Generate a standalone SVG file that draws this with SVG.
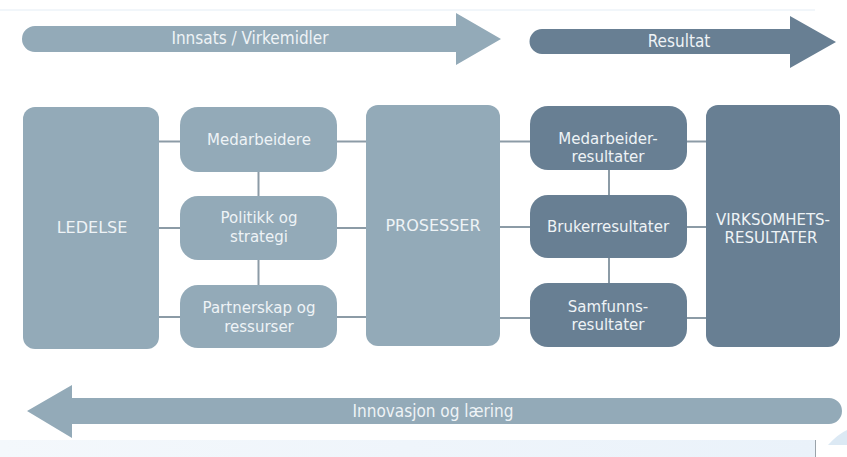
<svg xmlns="http://www.w3.org/2000/svg" width="847" height="457" viewBox="0 0 847 457">
<defs>
<linearGradient id="bg" x1="0" y1="0" x2="1" y2="0">
<stop offset="0" stop-color="#f4f8fc"/>
<stop offset="1" stop-color="#eaf2fa"/>
</linearGradient>
</defs>
<style>
.light{fill:#93aab8}
.dark{fill:#687f93}
.conn{stroke:#8c9ba6;stroke-width:2;fill:none}
.t{font-family:"DejaVu Sans",Verdana,sans-serif;font-size:15px;fill:#eef3f6;text-anchor:middle}
.big{font-size:16px}
.at{font-family:"DejaVu Sans Condensed","DejaVu Sans",sans-serif;font-size:17px;fill:#eef3f6;text-anchor:middle}
</style>
<rect width="847" height="457" fill="#ffffff"/>
<line x1="0" y1="10" x2="815" y2="10" stroke="#e4edf5" stroke-width="1"/>
<rect x="0" y="440" width="815" height="17" fill="url(#bg)"/>
<line x1="815.5" y1="440" x2="815.5" y2="457" stroke="#9aa3aa" stroke-width="1"/>
<path d="M 828 445 Q 838 434 847 430 L 847 445 Z" fill="#dce9f4"/>

<g id="arrow-innsats">
<path class="light" d="M 35 26 H 456 V 13 L 501 39 L 456 65 V 52 H 35 A 13 13 0 0 1 35 26 Z"/>
<text class="at" x="250" y="44">Innsats / Virkemidler</text>
</g>
<g id="arrow-resultat">
<path class="dark" d="M 542 29 H 790 V 16 L 836 42 L 790 68 V 54 H 542 A 12.5 12.5 0 0 1 542 29 Z"/>
<text class="at" x="679" y="47">Resultat</text>
</g>
<g id="arrow-innovasjon">
<path class="light" d="M 829 398 H 72 V 385 L 27 411 L 72 438 V 424 H 829 A 13 13 0 0 0 829 398 Z"/>
<text class="at" x="433" y="417">Innovasjon og læring</text>
</g>

<g id="connectors">
<line class="conn" x1="159" y1="141.5" x2="180" y2="141.5"/>
<line class="conn" x1="159" y1="228" x2="180" y2="228"/>
<line class="conn" x1="159" y1="317" x2="180" y2="317"/>
<line class="conn" x1="337" y1="141.5" x2="366" y2="141.5"/>
<line class="conn" x1="337" y1="228" x2="366" y2="228"/>
<line class="conn" x1="337" y1="317" x2="366" y2="317"/>
<line class="conn" x1="258.5" y1="172" x2="258.5" y2="196"/>
<line class="conn" x1="258.5" y1="260" x2="258.5" y2="285"/>
<line class="conn" x1="500" y1="141.5" x2="530" y2="141.5"/>
<line class="conn" x1="500" y1="227" x2="530" y2="227"/>
<line class="conn" x1="500" y1="318" x2="530" y2="318"/>
<line class="conn" x1="687" y1="141.5" x2="706" y2="141.5"/>
<line class="conn" x1="687" y1="227" x2="706" y2="227"/>
<line class="conn" x1="687" y1="318" x2="706" y2="318"/>
<line class="conn" x1="609" y1="170" x2="609" y2="195"/>
<line class="conn" x1="609" y1="258" x2="609" y2="283"/>
</g>

<g id="ledelse">
<rect class="light" x="23" y="107" width="136" height="242" rx="12"/>
<text class="t big" x="92" y="233">LEDELSE</text>
</g>
<g id="medarbeidere">
<rect class="light" x="180" y="107" width="157" height="65" rx="18"/>
<text class="t" x="259" y="145">Medarbeidere</text>
</g>
<g id="politikk">
<rect class="light" x="180" y="196" width="157" height="64" rx="18"/>
<text class="t" x="259" y="223">Politikk og</text>
<text class="t" x="259" y="242">strategi</text>
</g>
<g id="partnerskap">
<rect class="light" x="180" y="285" width="157" height="63" rx="18"/>
<text class="t" x="259" y="313">Partnerskap og</text>
<text class="t" x="259" y="332">ressurser</text>
</g>
<g id="prosesser">
<rect class="light" x="366" y="105" width="134" height="241" rx="12"/>
<text class="t big" x="433" y="231">PROSESSER</text>
</g>
<g id="medarbeiderresultater">
<rect class="dark" x="530" y="106" width="157" height="64" rx="18"/>
<text class="t" x="608" y="144">Medarbeider-</text>
<text class="t" x="608" y="162">resultater</text>
</g>
<g id="brukerresultater">
<rect class="dark" x="530" y="195" width="157" height="63" rx="18"/>
<text class="t" x="608" y="232">Brukerresultater</text>
</g>
<g id="samfunnsresultater">
<rect class="dark" x="530" y="283" width="157" height="64" rx="18"/>
<text class="t" x="608" y="312">Samfunns-</text>
<text class="t" x="608" y="330">resultater</text>
</g>
<g id="virksomhetsresultater">
<rect class="dark" x="706" y="105" width="134" height="242" rx="12"/>
<text class="t" x="773" y="225">VIRKSOMHETS-</text>
<text class="t" x="771" y="243">RESULTATER</text>
</g>
</svg>
